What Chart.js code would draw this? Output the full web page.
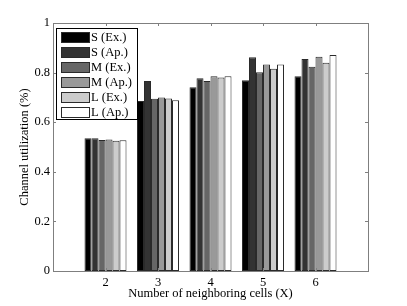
<!DOCTYPE html>
<html>
<head>
<meta charset="utf-8">
<script src="https://cdn.jsdelivr.net/npm/chart.js@4.4.1/dist/chart.umd.min.js"></script>
<style>
  html, body { margin: 0; padding: 0; background: #fff; }
  #wrap { width: 407px; height: 306px; }
</style>
</head>
<body>
<div id="wrap"><canvas id="chart" width="407" height="306"></canvas></div>
<script>
// neighbouring cells
const categories = ["2", "3", "4", "5", "6"];
const seriesNames = ["S (Ex.)", "S (Ap.)", "M (Ex.)", "M (Ap.)", "L (Ex.)", "L (Ap.)"];
const sEx = [0.535, 0.685, 0.741, 0.769, 0.785];
const sAp = [0.535, 0.766, 0.777, 0.862, 0.855];
const mEx = [0.528, 0.695, 0.766, 0.801, 0.824];
const mAp = [0.530, 0.700, 0.785, 0.833, 0.864];
const lEx = [0.525, 0.696, 0.780, 0.816, 0.840];
const lAp = [0.527, 0.689, 0.785, 0.833, 0.871];
const yTicks = [0, 0.2, 0.4, 0.6, 0.8, 1];

const fills = ["#000000", "#333333", "#666666", "#999999", "#cccccc", "#ffffff"];
const FONT = "'Liberation Serif', 'Times New Roman', serif";
const FS = 12.5;

// empty slots at both ends so the axis runs from 1 to 7
const labels = [""].concat(categories, [""]);
const pad = arr => [null].concat(arr, [null]);

const datasets = [sEx, sAp, mEx, mAp, lEx, lAp].map((vals, i) => ({
  label: seriesNames[i],
  data: pad(vals),
  backgroundColor: fills[i],
  borderColor: "#2a2a2a",
  borderWidth: 1,
  borderSkipped: false,
  categoryPercentage: 0.8,
  barPercentage: 1.0
}));

const frame = {
  id: "frame",
  afterDraw(chart) {
    const ctx = chart.ctx;
    const a = chart.chartArea;
    const x = chart.scales.x, y = chart.scales.y;
    ctx.save();
    ctx.strokeStyle = "#7f7f7f";
    ctx.lineWidth = 1;
    ctx.strokeRect(Math.round(a.left) + 0.5, Math.round(a.top) + 0.5,
      Math.round(a.right - a.left), Math.round(a.bottom - a.top));
    const tl = 3;
    ctx.beginPath();
    categories.forEach(c => {
      const px = Math.round(x.getPixelForValue(labels.indexOf(c))) + 0.5;
      ctx.moveTo(px, a.bottom); ctx.lineTo(px, a.bottom - tl);
      ctx.moveTo(px, a.top); ctx.lineTo(px, a.top + tl);
    });
    yTicks.forEach(v => {
      const py = Math.round(y.getPixelForValue(v)) + 0.5;
      ctx.moveTo(a.left, py); ctx.lineTo(a.left + tl, py);
      ctx.moveTo(a.right, py); ctx.lineTo(a.right - tl, py);
    });
    ctx.stroke();

    // legend box inside the axes
    const lx = 56, ly = 28, lw = 81, lh = 91;
    ctx.fillStyle = "#fff";
    ctx.fillRect(lx, ly, lw, lh);
    ctx.strokeStyle = "#000";
    ctx.strokeRect(lx + 0.5, ly + 0.5, lw, lh);
    ctx.font = FS + "px " + FONT;
    ctx.textBaseline = "middle";
    chart.data.datasets.forEach((ds, i) => {
      const cy = ly + 8.5 + i * 15.1;
      ctx.fillStyle = ds.backgroundColor;
      ctx.fillRect(61, Math.round(cy - 5), 28, 10);
      ctx.strokeStyle = "#2a2a2a";
      ctx.strokeRect(61.5, Math.round(cy - 5) + 0.5, 28, 10);
      ctx.fillStyle = "#000";
      ctx.fillText(ds.label, 91, cy + 1);
    });
    ctx.restore();
  }
};

new Chart(document.getElementById("chart"), {
  type: "bar",
  data: { labels, datasets },
  options: {
    responsive: false,
    animation: false,
    layout: { padding: { left: 17, right: 39, top: 23, bottom: 0 } },
    plugins: { legend: { display: false }, tooltip: { enabled: false } },
    scales: {
      x: {
        offset: false,
        grid: { display: false, drawTicks: false },
        border: { display: false },
        ticks: {
          color: "#000", font: { family: FONT, size: FS },
          padding: 4, maxRotation: 0, autoSkip: false
        },
        title: {
          display: true, text: "Number of neighboring cells (X)", color: "#000",
          font: { family: FONT, size: FS }, padding: { top: 0, bottom: 5 }
        },
        afterFit(s) { s.height = 35; }
      },
      y: {
        min: 0, max: 1,
        grid: { display: false, drawTicks: false },
        border: { display: false },
        afterBuildTicks(s) { s.ticks = yTicks.map(v => ({ value: v })); },
        ticks: {
          color: "#000", font: { family: FONT, size: FS }, padding: 3,
          callback: v => String(v)
        },
        title: {
          display: true, text: "Channel utilization (%)", color: "#000",
          font: { family: FONT, size: FS }, padding: { top: 0, bottom: 0 }
        },
        afterFit(s) { s.width = 36; }
      }
    }
  },
  plugins: [frame]
});
</script>
</body>
</html>
